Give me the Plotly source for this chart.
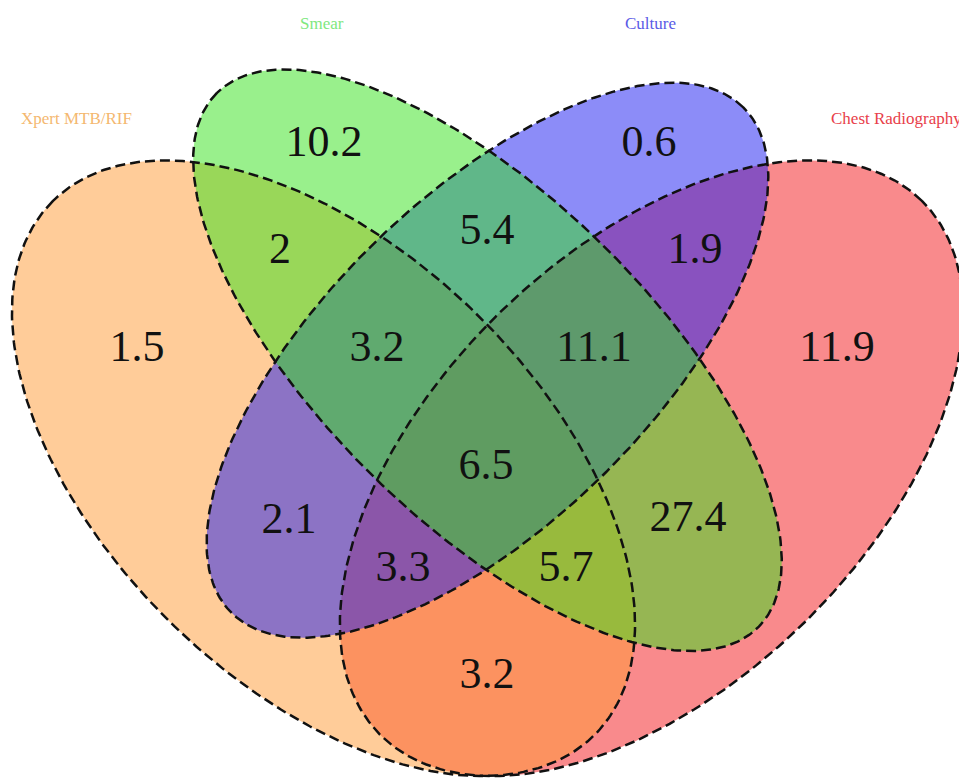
import numpy as np
import plotly.graph_objects as go

# set names and colours (drawing order follows the reference stacking)
set_names = ["Xpert MTB/RIF", "Smear", "Culture", "Chest Radiography"]
set_fill = ["rgba(255,153,51,0.5)", "rgba(51,225,25,0.5)",
            "rgba(25,25,241,0.5)", "rgba(243,21,25,0.5)"]
set_label_color = ["#F4B870", "#7FE87F", "#5A5AE6", "#E8404A"]

# region percentages
region_names = [
    "Xpert", "Smear", "Culture", "Chest",
    "Xpert&Smear", "Smear&Culture", "Culture&Chest", "Xpert&Culture",
    "Smear&Chest", "Xpert&Chest",
    "Xpert&Smear&Culture", "Smear&Culture&Chest",
    "Xpert&Culture&Chest", "Xpert&Smear&Chest", "All",
]
region_values = [1.5, 10.2, 0.6, 11.9, 2, 5.4, 1.9, 2.1, 27.4, 3.2,
                 3.2, 11.1, 3.3, 5.7, 6.5]

# label positions (pixels of the page)
region_pos = [
    (137, 350), (324, 145), (649, 145), (837, 350),
    (280, 252), (487, 233), (695, 252), (289, 522),
    (688, 520), (487, 677),
    (377, 350), (594, 350),
    (403, 570), (566, 570), (486, 468),
]
set_label_pos = [(76, 118), (322, 23), (650, 23), (896, 118)]

# ellipse geometry (VennDiagram quad layout, unit square)
ellipses = {
    "Xpert MTB/RIF": (0.35, 0.47, 0.35, 0.20, 135),
    "Smear": (0.50, 0.57, 0.35, 0.15, 135),
    "Culture": (0.50, 0.57, 0.331, 0.15, 45),
    "Chest Radiography": (0.65, 0.47, 0.35, 0.20, 45),
}

PAD = 8  # default body margin of the html page


def to_px(x, y):
    return 12 + (x - 0.065) * 1093, 776 - (y - 0.185) * 1080


def ellipse_xy(cx, cy, a, b, rot, n=400):
    t = np.linspace(0, 2 * np.pi, n)
    r = np.radians(rot)
    x = cx + a * np.cos(t) * np.cos(r) - b * np.sin(t) * np.sin(r)
    y = cy + a * np.cos(t) * np.sin(r) + b * np.sin(t) * np.cos(r)
    return to_px(x, y)


fig = go.Figure()

draw_order = ["Chest Radiography", "Xpert MTB/RIF", "Culture", "Smear"]
for name in draw_order:
    i = set_names.index(name)
    x, y = ellipse_xy(*ellipses[name])
    fig.add_trace(go.Scatter(x=x, y=y, mode="lines", fill="toself",
                             fillcolor=set_fill[i], line=dict(width=0),
                             hoverinfo="skip", showlegend=False))

for name in set_names:
    x, y = ellipse_xy(*ellipses[name])
    fig.add_trace(go.Scatter(x=x, y=y, mode="lines",
                             line=dict(color="#111111", width=2.5, dash="10px,5px"),
                             hoverinfo="skip", showlegend=False))

fig.add_trace(go.Scatter(
    x=[p[0] for p in region_pos], y=[p[1] for p in region_pos],
    mode="text", text=[f"{v:g}" for v in region_values],
    textfont=dict(family="Liberation Serif", size=44, color="#111111"),
    hovertext=region_names, showlegend=False,
))

for i, name in enumerate(set_names):
    fig.add_annotation(x=set_label_pos[i][0], y=set_label_pos[i][1], text=name,
                       showarrow=False,
                       font=dict(family="Liberation Serif", size=17,
                                 color=set_label_color[i]))

fig.update_xaxes(range=[PAD, 967], visible=False)
fig.update_yaxes(range=[779, PAD], visible=False)
fig.update_layout(
    width=967 - PAD, height=779 - PAD,
    margin=dict(l=0, r=0, t=0, b=0),
    plot_bgcolor="white", paper_bgcolor="white",
)
fig.write_html("out.html")
